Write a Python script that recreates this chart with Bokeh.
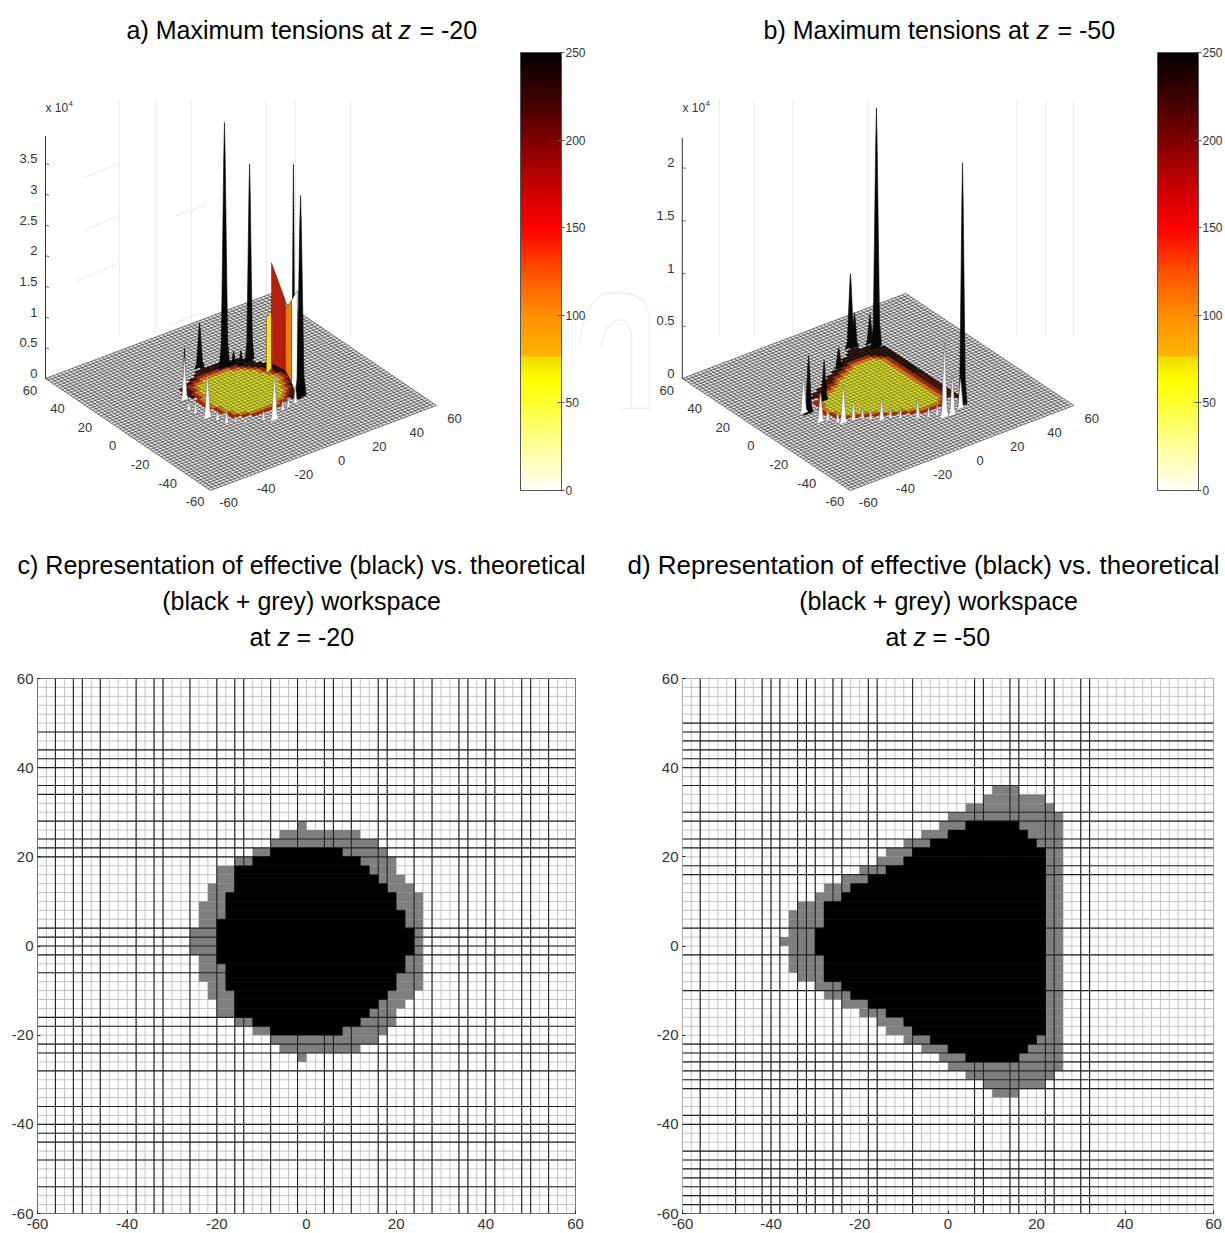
import numpy as np
from bokeh.plotting import figure
from bokeh.layouts import column, row
from bokeh.models import ColorBar, LinearColorMapper, FixedTicker, Range1d
from bokeh.core.properties import value
from bokeh.embed import file_html
from bokeh.resources import INLINE

FONT = "Liberation Sans"

# ---------- data: workspace rows (bottom edge of a 2-unit row, x extents) ----------
c_rows = [26,24,22,20,18,16,14,12,10,8,6,4,2,0,-2,-4,-6,-8,-10,-12,-14,-16,-18,-20,-22,-24,-26]
c_grey_left = [-2,-6,-8,-12,-16,-20,-20,-22,-22,-24,-24,-24,-26,-26,-26,-24,-24,-24,-22,-22,-20,-20,-16,-12,-8,-6,-2]
c_grey_right = [0,12,16,18,20,20,22,24,26,26,26,26,26,26,26,26,26,26,26,24,22,20,20,18,16,12,0]
c_black_left = [0,0,0,-8,-12,-16,-16,-16,-18,-18,-18,-20,-20,-20,-20,-20,-18,-18,-18,-16,-16,-16,-12,-8,0,0,0]
c_black_right = [0,0,0,8,12,14,16,18,20,20,22,22,24,24,24,22,22,20,20,18,16,14,12,8,0,0,0]

d_rows = [34,32,30,28,26,24,22,20,18,16,14,12,10,8,6,4,2,0,-2,-4,-6,-8,-10,-12,-14,-16,-18,-20,-22,-24,-26,-28,-30,-32,-34]
d_grey_left = [10,8,4,0,-2,-6,-10,-14,-16,-20,-24,-28,-30,-34,-36,-36,-36,-38,-36,-36,-36,-34,-30,-28,-24,-20,-16,-14,-10,-6,-2,0,4,8,10]
d_grey_right = [16,22,24,26,26,26,26,26,26,26,26,26,26,26,26,26,26,26,26,26,26,26,26,26,26,26,26,26,26,26,26,26,24,22,16]
d_black_left = [0,0,0,0,4,0,-4,-8,-10,-14,-18,-22,-24,-28,-28,-28,-30,-30,-30,-28,-28,-28,-24,-22,-18,-14,-10,-8,-4,0,4,0,0,0,0]
d_black_right = [0,0,0,0,16,18,20,22,22,22,22,22,22,22,22,22,22,22,22,22,22,22,22,22,22,22,22,22,20,18,16,0,0,0,0]

grid_ticks = [-60,-40,-20,0,20,40,60]
grid_labels = ["-60","-40","-20","0","20","40","60"]
c_dark_x = [-56,-52,-50,-46,-38,-34,-32,-26,-20,-16,-14,-8,-2,4,6,10,16,18,24,28,34,36,40,42,48,50,54]
c_dark_y = [48,44,42,40,36,34,28,24,22,20,4,2,0,-2,-6,-16,-18,-22,-24,-28,-36,-40,-42,-44,-48,-54]
d_dark_x = [-56,-48,-42,-40,-38,-34,-32,-30,-26,-24,-18,-16,-8,6,8,14,16,22,24,30,32]
d_dark_y = [50,48,46,44,42,40,36,30,28,24,22,18,16,4,-2,-10,-22,-24,-26,-28,-30,-32,-38,-40,-46,-48,-50,-52,-54,-56,-58,-60]

# ---------- data: peaks of the surfaces (x, y, height x 1e4, half width) ----------
a_black_x = [-1.8,11.8,13.3,6.7,18.8,21.2,-23.6]
a_black_y = [27.7,21.6,18.3,21.2,19.5,-9.1,8.8]
a_black_h = [0.73,0.20,0.25,3.99,3.20,3.60,0.86]
a_black_w = [2.6,1.8,1.8,2.8,2.4,1.2,1.0]
a_front_x = [17.6]
a_front_y = [-19.2]
a_front_h = [3.29]
a_front_w = [3.0]
a_white_x = [-23.6,-27.2,-26.4,-24.8,-22.4,-20.8,-17.3,-13.9,-6.7,-2.9,4.9,8.4,12.8]
a_white_y = [8.8,0.8,-3.0,-9.6,-13.6,-18.0,-19.6,-22.2,-25.5,-28.3,-23.6,-23.0,-22.0]
a_white_h = [0.70,0.16,0.21,0.72,0.16,0.24,0.11,0.08,0.16,0.76,0.16,0.16,0.28]
a_white_w = [2.2,1.5,1.5,2.4,1.5,1.5,1.2,1.2,1.5,2.4,1.5,1.5,1.5]

b_black_x = [13.4,14.8,-0.9,-22.8,-34.8,22.1,22.3,22.0]
b_black_y = [37.5,36.5,26.9,8.2,3.3,35.2,30.8,-31.1]
b_black_h = [0.70,0.33,0.19,0.38,0.55,0.28,2.27,2.30]
b_black_w = [2.8,2.4,2.4,2.2,2.6,2.4,2.8,2.4]
b_white_x = [-36.5,-35.3,-31.9,-29.4,-28.0,-23.0,-18.9,-16.7,-13.4,-9.3,-5.9,0.0,4.2,8.2,9.6,13.4,19.7]
b_white_y = [4.6,-5.9,-6.4,-10.3,-12.5,-13.1,-14.1,-16.9,-20.4,-21.3,-23.9,-28.3,-30.5,-31.4,-34.7,-35.3,-32.7]
b_white_h = [0.35,0.28,0.10,0.10,0.36,0.20,0.10,0.10,0.22,0.11,0.10,0.19,0.11,0.11,0.70,0.38,0.28]
b_white_w = [2.4,2.4,1.5,1.5,2.4,1.6,1.3,1.3,1.8,1.3,1.3,1.6,1.3,1.3,2.4,2.2,2.2]

# big coloured faces of panel a: corner x, corner y, top z per corner
a_face_colors = ["#f4e60a","#b4200c","#ee7a10","#ffffff"]
a_face_x = [[18.0,22.3],[24.8,26.0],[26.0,22.1],[22.1,16.5]]
a_face_y = [[6.2,8.3],[11.8,3.3],[3.3,-6.5],[-6.5,-18.4]]
a_face_z = [[0.90,0.94],[1.64,1.14],[1.00,1.34],[1.34,1.74]]

z_ticks_a = [0,0.5,1,1.5,2,2.5,3,3.5]
z_labels_a = ["0","0.5","1","1.5","2","2.5","3","3.5"]
z_ticks_b = [0,0.5,1,1.5,2]
z_labels_b = ["0","0.5","1","1.5","2"]

cbar_ticks = [0,50,100,150,200,250]
cbar_values = [0,25,50,62,76,77,100,125,150,175,200,225,250]
cbar_colors = ["#fffffa","#ffff9a","#ffff30","#ffff00","#eedd00","#ffb400","#ff9000","#ff5000","#ff0000","#c40000","#800000","#3c0000","#050000"]

ghost_a_x = [119,155,191,266,295,350]
ghost_b_x = [719,754,792,867,1016,1045,1073]
ghost_a_seg = [[84,119],[78,119],[84,119],[175,205],[170,200]]
ghost_a_seg_y = [[177,163],[280,262],[230,215],[215,205],[325,312]]

TITLE_SIZE = "25px"
LINE_SIZE = "25px"
LINE_SIZE_D = "26px"

# ---------- helpers ----------
def hex2rgb(h):
    return [int(h[i:i+2],16) for i in (1,3,5)]

def build_palette():
    arr = np.array([hex2rgb(c) for c in cbar_colors],float)
    lv = np.arange(0,251)
    r = [np.interp(lv,cbar_values,arr[:,k]) for k in range(3)]
    return ["#%02x%02x%02x"%(int(r[0][i]),int(r[1][i]),int(r[2][i])) for i in range(len(lv))]
PAL = build_palette()

def labels(p, items, size="13px", color="#333333", align="center"):
    xs=[i[0] for i in items]; ys=[i[1] for i in items]; ts=[i[2] for i in items]
    p.text(xs,ys,text=ts,text_font=value(FONT),text_font_size=size,text_color=color,
           text_align=align,text_baseline="middle")

def cell_depth(rows,gl,gr,bl,br):
    grey=np.zeros((60,60),bool); black=np.zeros((60,60),bool)
    for r,a,b,c,d in zip(rows,gl,gr,bl,br):
        j=(r+60)//2
        grey[j,(a+60)//2:(b+60)//2]=True
        if d>c: black[j,(c+60)//2:(d+60)//2]=True
    depth=np.zeros((60,60),int)
    cur=black.copy(); k=1
    while cur.any():
        depth[cur]=k
        nb=np.zeros_like(cur)
        nb[1:-1,1:-1]=cur[1:-1,1:-1]&cur[:-2,1:-1]&cur[2:,1:-1]&cur[1:-1,:-2]&cur[1:-1,2:]
        cur=nb; k+=1
    return grey,depth

def panel3d(left,right,g,rows,gl,gr,bl,br,zt,zl,zx,blk,wht,front,ghosts,cbx,title,extra,wm):
    p=figure(width=right-left,height=670,x_range=Range1d(left,right),y_range=Range1d(670,0),
             x_axis_type=None,y_axis_type=None,toolbar_location=None,output_backend="svg",
             min_border=0,min_border_left=0,min_border_right=0,min_border_top=0,min_border_bottom=0,outline_line_color=None)
    p.grid.visible=False
    def P(x,y,z=0.0):
        return (g["cx"]+g["ex"][0]*x+g["ey"][0]*y, g["cy"]+g["ex"][1]*x+g["ey"][1]*y-g["kz"]*z)
    # ghost walls
    p.segment(ghosts,[100]*len(ghosts),ghosts,[335]*len(ghosts),line_color="#e8e8e8",line_width=1.2,line_dash="3 1")
    if "seg" in g:
        p.multi_line(g["seg"][0],g["seg"][1],line_color="#ececec",line_width=1.5,line_dash="3 1")
    p.multi_line(wm[0],wm[1],line_color="#efefef",line_width=1.5)
    # ground
    c=[P(-60,60),P(-60,-60),P(60,-60),P(60,60)]
    p.patch([q[0] for q in c],[q[1] for q in c],fill_color="#e2e2e2",line_color=None)
    gv=np.arange(-60,61,2)
    mx=[];my=[]
    for v in gv:
        a,b=P(v,-60),P(v,60); mx.append([a[0],b[0]]); my.append([a[1],b[1]])
        a,b=P(-60,v),P(60,v); mx.append([a[0],b[0]]); my.append([a[1],b[1]])
    p.multi_line(mx,my,line_color="#1a1a1a",line_alpha=0.8,line_width=0.7)
    grey,depth=cell_depth(rows,gl,gr,bl,br)
    cols=["#3e0606","#b4200c","#ee7a10","#d8dc28"]
    xs=[];ys=[];fc=[]
    for j in range(60):
        for i in range(60):
            if not grey[j,i]: continue
            x0=-60+2*i; y0=-60+2*j
            mid=P(x0+1,y0+1)
            d=min(depth[j,i],3)
            if d==0 and mid[1]>g["cy"]+6: continue
            if d==0 and mid[1]<g["cy"]-20: col="#1c0202"
            else: col=cols[d]
            q=[P(x0,y0),P(x0+2,y0),P(x0+2,y0+2),P(x0,y0+2)]
            xs.append([u[0] for u in q]); ys.append([u[1] for u in q]); fc.append(col)
    p.patches(xs,ys,fill_color=fc,line_color="#3a3a10",line_alpha=0.55,line_width=0.5)
    # peaks
    def peak(x,y,h,w):
        prof=[(-1,0),(-.6,.1),(-.38,.45),(-.14,.85),(0,1),(.14,.85),(.38,.45),(.6,.1),(1,0)]
        q=[P(x+a*w,y,b*h) for a,b in prof]
        return [u[0] for u in q],[u[1] for u in q]
    def draw(s,color,edge):
        xx=[];yy=[]
        for x,y,h,w in zip(*s):
            a,b=peak(x,y,h,w); xx.append(a); yy.append(b)
        p.patches(xx,yy,fill_color=color,line_color=edge,line_width=0.6)
    draw(blk,"#060606","#060606")
    if "faces" in g:
        fx,fy,fz,fcol=g["faces"]
        xx=[];yy=[]
        for ax,ay,az in zip(fx,fy,fz):
            q=[P(ax[0],ay[0]),P(ax[0],ay[0],az[0]),P(ax[1],ay[1],az[1]),P(ax[1],ay[1])]
            xx.append([u[0] for u in q]); yy.append([u[1] for u in q])
        p.patches(xx,yy,fill_color=fcol,line_color="#401008",line_width=0.4)
    if front is not None: draw(front,"#060606","#060606")
    draw(wht,"#ffffff","#777777")
    # z axis
    z0=P(-60,60,0); zt_top=P(-60,60,g["ztop"])
    p.line([z0[0],zt_top[0]],[z0[1],zt_top[1]],line_color="#333333",line_width=1)
    for t in zt:
        a=P(-60,60,t)
        p.line([a[0],a[0]+3.5],[a[1],a[1]+1],line_color="#444444",line_width=0.8)
    labels(p,[(zx-8,P(-60,60,t)[1]-5,s) for t,s in zip(zt,zl)],align="right")
    items=[]
    for t,s in zip(grid_ticks,grid_labels):
        a=P(-60,t); items.append((a[0]-15.5,a[1]+11.5,s))
        a=P(t,-60); items.append((a[0]+18,a[1]+12.5,s))
    labels(p,items)
    p.text([zx],[107],text=["x 10"],text_font=value(FONT),text_font_size="12px",text_color="#333333",text_baseline="middle")
    p.text([zx+23],[103],text=["4"],text_font=value(FONT),text_font_size="8px",text_color="#333333",text_baseline="middle")
    for txt,xx,it in title:
        p.text([xx],[29],text=[txt],text_font=value(FONT),text_font_size=TITLE_SIZE,text_color="#000000",
               text_baseline="middle",text_font_style="italic" if it else "normal")
    for txt,xx,yy,al,it,sz in extra:
        p.text([xx],[yy],text=[txt],text_font=value(FONT),text_font_size=sz,text_color="#000000",text_align=al,
               text_baseline="middle",text_font_style="italic" if it else "normal")
    mapper=LinearColorMapper(palette=PAL,low=0,high=250)
    cb=ColorBar(color_mapper=mapper,ticker=FixedTicker(ticks=cbar_ticks),location=(cbx-left,180),width=41,height=438,
                padding=0,margin=0,major_label_text_font=FONT,major_label_text_font_size="12px",major_label_text_color="#333333",
                major_tick_in=4,major_tick_out=3,major_tick_line_color="#555555",bar_line_color="#555555",
                border_line_color=None,background_fill_alpha=0,label_standoff=1)
    p.add_layout(cb,"center")
    return p

geom_a=dict(cx=240.5,cy=391.5,ex=(1.883,-0.708),ey=(-1.375,-0.933),kz=61.4,ztop=3.95,
            faces=(a_face_x,a_face_y,a_face_z,a_face_colors),seg=(ghost_a_seg,ghost_a_seg_y))
geom_b=dict(cx=877.5,cy=391.5,ex=(1.8625,-0.708),ey=(-1.4,-0.933),kz=105.5,ztop=2.28)

wm_a=([[578,583,592,603,620],[600,606,612,620]],[[345,322,302,293,292],[345,328,322,318]])
wm_b=([[620,632,643,649,649,620],[620,627,631,631]],[[292,294,300,314,408,408],[318,323,332,408]])

pa=panel3d(0,620,geom_a,c_rows,c_grey_left,c_grey_right,c_black_left,c_black_right,z_ticks_a,z_labels_a,45,
           (a_black_x,a_black_y,a_black_h,a_black_w),(a_white_x,a_white_y,a_white_h,a_white_w),
           (a_front_x,a_front_y,a_front_h,a_front_w),ghost_a_x,520,
           [("a) Maximum tensions at",126,False),("z",398,True),("= -20",419,False)],
           [("c) Representation of effective (black) vs. theoretical",301,564,"center",False,LINE_SIZE),
            ("(black + grey) workspace",301,600,"center",False,LINE_SIZE),
            ("at",249,636,"left",False,LINE_SIZE),("z",277,636,"left",True,LINE_SIZE),("= -20",296,636,"left",False,LINE_SIZE)],wm_a)
pb=panel3d(620,1225,geom_b,d_rows,d_grey_left,d_grey_right,d_black_left,d_black_right,z_ticks_b,z_labels_b,682,
           (b_black_x,b_black_y,b_black_h,b_black_w),(b_white_x,b_white_y,b_white_h,b_white_w),
           None,ghost_b_x,1157,
           [("b) Maximum tensions at",763,False),("z",1036,True),("= -50",1057,False)],
           [("d) Representation of effective (black) vs. theoretical",923,564,"center",False,LINE_SIZE_D),
            ("(black + grey) workspace",938,600,"center",False,LINE_SIZE),
            ("at",885,636,"left",False,LINE_SIZE),("z",913,636,"left",True,LINE_SIZE),("= -50",932,636,"left",False,LINE_SIZE)],wm_b)

def panel2d(width,fl,fr,ft,fb,rows,gl,gr,bl,br,dx,dy,outline):
    p=figure(width=width,height=563,x_range=Range1d(-60,60),y_range=Range1d(-60,60),
             toolbar_location=None,output_backend="svg",min_border_left=fl,min_border_right=fr,
             min_border_top=ft,min_border_bottom=fb,outline_line_color=outline)
    p.grid.visible=False
    bot=list(rows); top_e=[r+2 for r in rows]
    gv=list(range(-60,61,2))
    p.multi_line([[v,v] for v in gv],[[-60,60] for v in gv],line_color="#c2c2c2",line_width=1)
    p.multi_line([[-60,60] for v in gv],[[v,v] for v in gv],line_color="#c2c2c2",line_width=1)
    p.quad(left=gl,right=gr,bottom=bot,top=top_e,fill_color="#7f7f7f",line_color=None)
    p.multi_line([[v,v] for v in dx],[[-60,60] for v in dx],line_color="#222222",line_width=1.1)
    p.multi_line([[-60,60] for v in dy],[[v,v] for v in dy],line_color="#222222",line_width=1.1)
    keep=[i for i in range(len(rows)) if br[i]>bl[i]]
    p.quad(left=[bl[i] for i in keep],right=[br[i] for i in keep],bottom=[bot[i] for i in keep],
           top=[top_e[i] for i in keep],fill_color="#000000",line_color="#000000",line_width=0.5)
    for ax in (p.xaxis[0],p.yaxis[0]):
        ax.ticker=FixedTicker(ticks=grid_ticks)
        ax.major_label_overrides={t:s for t,s in zip(grid_ticks,grid_labels)}
        ax.major_label_text_font=FONT
        ax.major_label_text_font_size="15px"
        ax.major_label_text_color="#333333"
        ax.major_tick_in=3; ax.major_tick_out=0; ax.minor_tick_line_color=None
        ax.axis_line_color=None
        ax.major_tick_line_color="#222222"
    p.xaxis[0].major_label_standoff=5
    p.yaxis[0].major_label_standoff=4
    return p

pc=panel2d(620,37,45,7,20,c_rows,c_grey_left,c_grey_right,c_black_left,c_black_right,c_dark_x,c_dark_y,"#222222")
pd=panel2d(605,62,12,8,20,d_rows,d_grey_left,d_grey_right,d_black_left,d_black_right,d_dark_x,d_dark_y,"#999999")

layout=column(row(pa,pb),row(pc,pd))
open("out.html","w").write(file_html(layout,INLINE))
